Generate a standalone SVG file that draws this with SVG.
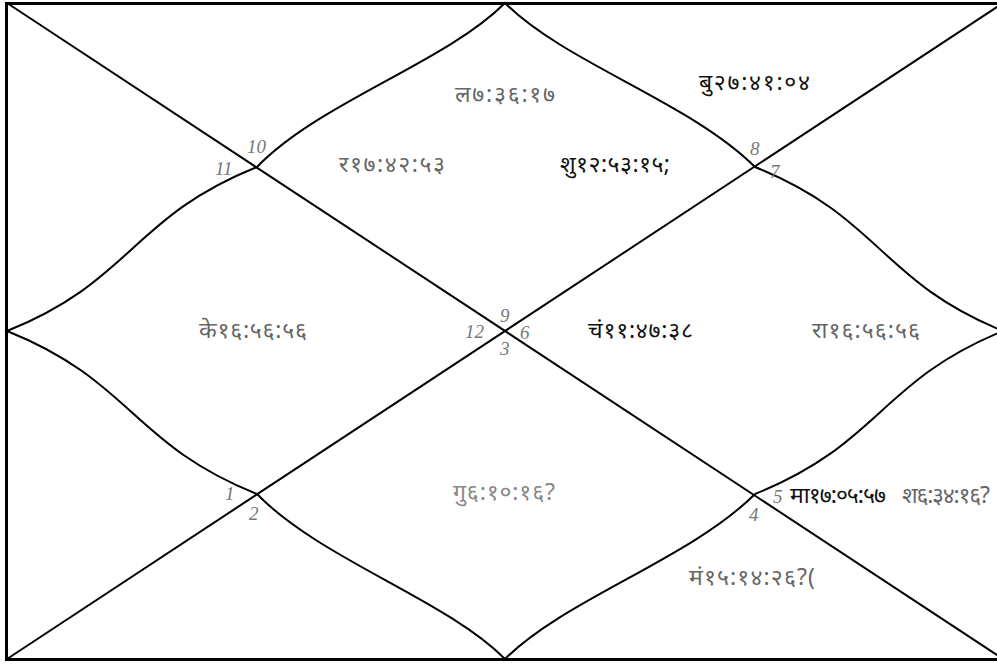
<svg xmlns="http://www.w3.org/2000/svg" width="997" height="664" viewBox="0 0 997 664">
<style>
.ln{fill:none;stroke:#000;stroke-width:2}
.fr{fill:none;stroke:#000;stroke-width:3}
.num{font-family:"Liberation Serif",serif;font-style:italic;font-size:19px;fill:#777}
.t{font-family:"Noto Sans","Noto Sans Devanagari","Lohit Devanagari",sans-serif;font-size:23px;font-weight:normal}
.g{fill:#666}
.b{fill:#111}
</style>
<rect width="997" height="664" fill="#fff"/>
<g id="connectors">
<path class="fr" d="M6.5 661 V3.5 H1003 M5 659.5 H1003"/>
<line class="ln" x1="7" y1="3" x2="1003" y2="659"/>
<line class="ln" x1="1003" y1="3" x2="7" y2="659"/>
<path class="ln" d="M257 167 C320 102 445 63 505 3 C565 63 690 102 755 167"/>
<path class="ln" d="M257 494 C320 559 445 599 505 659 C565 599 690 559 755 494"/>
<path class="ln" d="M257 167 C132 217 132 281 7 331 C132 381 132 444 257 494"/>
<path class="ln" d="M755 167 C880 217 880 281 1003 331 C880 381 880 444 755 494"/>
</g>
<g id="house-numbers">
<text class="num" x="247" y="153">10</text>
<text class="num" x="215" y="175">11</text>
<text class="num" x="750" y="155">8</text>
<text class="num" x="770" y="178">7</text>
<text class="num" x="465" y="338">12</text>
<text class="num" x="500" y="322">9</text>
<text class="num" x="520" y="339">6</text>
<text class="num" x="500" y="355">3</text>
<text class="num" x="225" y="500">1</text>
<text class="num" x="249" y="520">2</text>
<text class="num" x="773" y="503">5</text>
<text class="num" x="749" y="521">4</text>
</g>
<g id="planets">
<text class="t g" x="455" y="102" textLength="100">ल७:३६:१७</text>
<text class="t b" x="699" y="90" textLength="111">बु२७:४१:०४</text>
<text class="t g" x="339" y="172" textLength="106">र१७:४२:५३</text>
<text class="t b" x="560" y="172" textLength="110">शु१२:५३:१५;</text>
<text class="t g" x="199" y="338" textLength="108">के१६:५६:५६</text>
<text class="t b" x="588" y="338" textLength="105">चं११:४७:३८</text>
<text class="t g" x="812" y="338" textLength="108">रा१६:५६:५६</text>
<text class="t" x="453" y="500" fill="#888" textLength="102">गु६:१०:१६?</text>
<text class="t b" x="789" y="503" textLength="96">मा१७:०५:५७</text>
<text class="t g" x="902" y="503" textLength="88">श६:३४:१६?</text>
<text class="t g" x="689" y="585" textLength="126">मं१५:१४:२६?(</text>
</g>
</svg>
